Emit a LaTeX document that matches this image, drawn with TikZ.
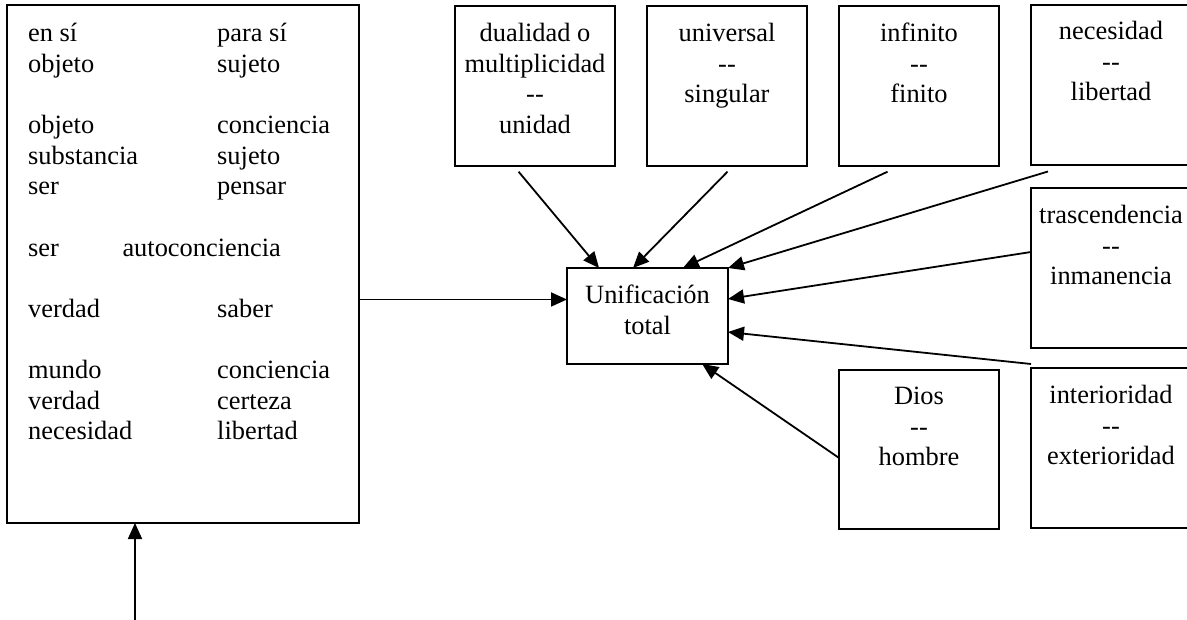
\documentclass[tikz,border=0pt]{standalone}
\usepackage{fontspec}
\setmainfont{Liberation Serif}[Ligatures=NoCommon]
\usetikzlibrary{arrows.meta,calc}
\newcommand{\dd}{-\kern0pt-}
\begin{document}
\begin{tikzpicture}[x=1pt,y=-1pt,
  box/.style={draw,line width=2pt,inner sep=0pt,outer sep=0pt,anchor=north west},
  arr/.style={line width=1.8pt,-{Triangle[length=16pt,width=14pt]}},
  txt/.style={anchor=base,inner sep=0pt,font=\fontsize{26.4pt}{30.6pt}\selectfont},
  ltxt/.style={txt,anchor=base west}]
\useasboundingbox (0,0) rectangle (1187,620);
\fill[white] (0,0) rectangle (1187,620);
\clip (0,0) rectangle (1187,620);
% boxes
\node[box,minimum width=352pt,minimum height=518pt] (L) at (7,5) {};
\node[box,minimum width=160pt,minimum height=160pt] (b1) at (455,6) {};
\node[box,minimum width=160pt,minimum height=160pt] (b2) at (647,6) {};
\node[box,minimum width=160pt,minimum height=160pt] (b3) at (839,6) {};
\node[box,minimum width=160pt,minimum height=160pt] (b4) at (1031,5) {};
\node[box,minimum width=160pt,minimum height=160pt] (b5) at (1031,188) {};
\node[box,minimum width=160pt,minimum height=160pt] (b6) at (1031,368) {};
\node[box,minimum width=160pt,minimum height=159pt] (bd) at (839,370) {};
\node[box,minimum width=161pt,minimum height=96pt] (u) at (567,268) {};
% left box text
\foreach \i/\a/\b in {0/en sí/para sí,1/objeto/sujeto,3/objeto/conciencia,4/substancia/sujeto,5/ser/pensar,9/verdad/saber,11/mundo/conciencia,12/verdad/certeza,13/necesidad/libertad}{
  \node[ltxt] (la\i) at (28,{41.5+30.65*\i}) {\a};
  \node[ltxt] (lb\i) at (217,{41.5+30.65*\i}) {\b};
}
\node[ltxt] (la7) at (28,256.05) {ser};
\node[ltxt] (lb7) at (122.3,256.05) {autoconciencia};
% top boxes text
\node[txt] (t1a) at (535,41.5) {dualidad o};
\node[txt] (t1b) at (535,72.1) {multiplicidad};
\node[txt] (t1c) at (535,102.7) {\dd};
\node[txt] (t1d) at (535,133.3) {unidad};
\node[txt] (t2a) at (727,41.5) {universal};
\node[txt] (t2b) at (727,72.1) {\dd};
\node[txt] (t2c) at (727,102.7) {singular};
\node[txt] (t3a) at (919,41.5) {infinito};
\node[txt] (t3b) at (919,72.1) {\dd};
\node[txt] (t3c) at (919,102.7) {finito};
\node[txt] (t4a) at (1111,39.5) {necesidad};
\node[txt] (t4b) at (1111,70.1) {\dd};
\node[txt] (t4c) at (1111,100.7) {libertad};
\node[txt] (t5a) at (1111,223.5) {trascendencia};
\node[txt] (t5b) at (1111,254.1) {\dd};
\node[txt] (t5c) at (1111,284.7) {inmanencia};
\node[txt] (t6a) at (1111,403.5) {interioridad};
\node[txt] (t6b) at (1111,434.1) {\dd};
\node[txt] (t6c) at (1111,464.7) {exterioridad};
\node[txt] (tda) at (919,404.5) {Dios};
\node[txt] (tdb) at (919,435.1) {\dd};
\node[txt] (tdc) at (919,465.7) {hombre};
\node[txt] (tua) at (647.5,303.5) {Unificación};
\node[txt] (tub) at (647.5,334.1) {total};
% free ends of connectors
\coordinate (v0) at (135,620);
\coordinate (s1) at (518.6,171.7);
\coordinate (s2) at (727.5,171.7);
\coordinate (s3) at (887.5,171.7);
\coordinate (s4) at (1048,171.5);
\coordinate (s6) at (1031,364);
% connectors
\draw[arr] (v0) -- (v0 |- L.south);
\coordinate (uL) at ($(u.north west)!0.328!(u.south west)$);
\draw[arr] (L.east |- uL) -- (uL);
\draw[arr] (s1) -- ($(u.north west)!0.199!(u.north east)$);
\draw[arr] (s2) -- ($(u.north west)!0.41!(u.north east)$);
\draw[arr] (s3) -- ($(u.north west)!0.72!(u.north east)$);
\draw[arr] (s4) -- (u.north east);
\draw[arr] ($(b5.north west)!0.4!(b5.south west)$) -- ($(u.north east)!0.323!(u.south east)$);
\draw[arr] (s6) -- ($(u.north east)!0.667!(u.south east)$);
\draw[arr] ($(bd.north west)!0.553!(bd.south west)$) -- ($(u.south west)!0.84!(u.south east)$);
\end{tikzpicture}
\end{document}
